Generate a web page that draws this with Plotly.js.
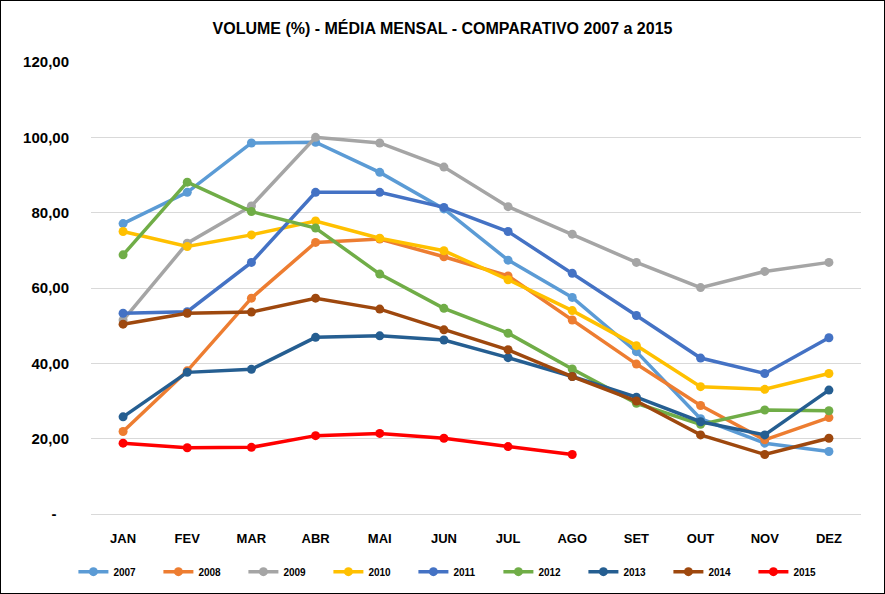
<!DOCTYPE html>
<html>
<head>
<meta charset="utf-8">
<script src="https://cdn.plot.ly/plotly-3.0.1.min.js"></script>
<style>
  body { margin: 0; background: #fff; }
  #chart { width: 883px; height: 592px; border: 1px solid #000; }
</style>
</head>
<body>
<div id="chart"></div>
<script>
/* ─── Volume mensal 2007-2015 ─── */

const months = ['JAN', 'FEV', 'MAR', 'ABR', 'MAI', 'JUN', 'JUL', 'AGO', 'SET', 'OUT', 'NOV', 'DEZ'];

const v2007 = [77.1, 85.4, 98.5, 98.7, 90.7, 81.0, 67.4, 57.5, 43.1, 25.3, 18.8, 16.6];
const v2008 = [21.9, 38.0, 57.3, 72.1, 73.0, 68.3, 63.2, 51.5, 39.8, 28.8, 19.7, 25.6];
const v2009 = [51.5, 71.9, 81.8, 100.0, 98.5, 92.1, 81.6, 74.3, 66.8, 60.1, 64.4, 66.8];
const v2010 = [75.0, 71.0, 74.1, 77.8, 73.2, 69.9, 62.2, 54.0, 44.7, 33.8, 33.1, 37.3];
const v2011 = [53.3, 53.7, 66.8, 85.4, 85.4, 81.4, 75.0, 63.9, 52.7, 41.4, 37.3, 46.8];
const v2012 = [68.8, 88.1, 80.3, 75.9, 63.7, 54.6, 48.0, 38.5, 29.4, 23.8, 27.6, 27.4];
const v2013 = [25.8, 37.6, 38.4, 46.9, 47.3, 46.2, 41.5, 36.5, 31.0, 24.5, 21.0, 32.9];
const v2014 = [50.4, 53.3, 53.6, 57.3, 54.4, 48.9, 43.6, 36.5, 30.0, 21.0, 15.8, 20.1];
const v2015 = [18.8, 17.6, 17.7, 20.8, 21.4, 20.1, 17.9, 15.8];

const yTickVals = [0, 20, 40, 60, 80, 100, 120];
const yTickText = ['-\u00a0\u00a0\u00a0', '20,00', '40,00', '60,00', '80,00', '100,00', '120,00'];

const FONT = 'Liberation Sans, Arial, sans-serif';

const series = [
    { name: '2007', y: v2007, color: '#5B9BD5' },
    { name: '2008', y: v2008, color: '#ED7D31' },
    { name: '2009', y: v2009, color: '#A5A5A5' },
    { name: '2010', y: v2010, color: '#FFC000' },
    { name: '2011', y: v2011, color: '#4472C4' },
    { name: '2012', y: v2012, color: '#70AD47' },
    { name: '2013', y: v2013, color: '#255E91' },
    { name: '2014', y: v2014, color: '#9E480E' },
    { name: '2015', y: v2015, color: '#FF0000' },
];

const traces = series.map(s => ({
    x: months.slice(0, s.y.length),
    y: s.y,
    name: s.name,
    type: 'scatter',
    mode: 'lines+markers',
    line: { color: s.color, width: 3.5 },
    marker: { color: s.color, size: 9 },
}));

const layout = {
    width: 883,
    height: 592,
    margin: { l: 90, r: 23, t: 61, b: 79 },
    paper_bgcolor: '#fff',
    plot_bgcolor: '#fff',
    font: { family: FONT, color: '#000' },
    title: {
        text: '<b>VOLUME (%) - MÉDIA MENSAL - COMPARATIVO 2007 a 2015</b>',
        font: { family: FONT, size: 16, color: '#000' },
        x: 0.5,
        xref: 'container',
        xanchor: 'center',
        y: 0.953,
        yref: 'container',
        yanchor: 'middle',
    },
    xaxis: {
        type: 'category',
        categoryarray: months,
        range: [-0.5, 11.5],
        showgrid: false,
        showline: true,
        linecolor: '#D9D9D9',
        linewidth: 1,
        ticks: 'outside',
        ticklen: 12,
        tickcolor: 'rgba(0,0,0,0)',
        tickfont: { family: FONT, size: 13, color: '#000', weight: 'bold' },
        fixedrange: true,
    },
    yaxis: {
        range: [0, 120],
        tickvals: yTickVals,
        ticktext: yTickText,
        showgrid: true,
        gridcolor: '#D9D9D9',
        gridwidth: 1,
        zeroline: false,
        ticks: 'outside',
        ticklen: 18,
        tickcolor: 'rgba(0,0,0,0)',
        tickfont: { family: FONT, size: 15, color: '#000', weight: 'bold' },
        fixedrange: true,
    },
    legend: {
        orientation: 'h',
        xref: 'container',
        yref: 'container',
        x: 0.082,
        xanchor: 'left',
        y: 0.036,
        yanchor: 'middle',
        entrywidth: 40,
        entrywidthmode: 'pixels',
        itemwidth: 30,
        font: { family: FONT, size: 10, color: '#000', weight: 'bold' },
    },
    showlegend: true,
};

Plotly.newPlot('chart', traces, layout, { displayModeBar: false, staticPlot: true });
</script>
</body>
</html>
